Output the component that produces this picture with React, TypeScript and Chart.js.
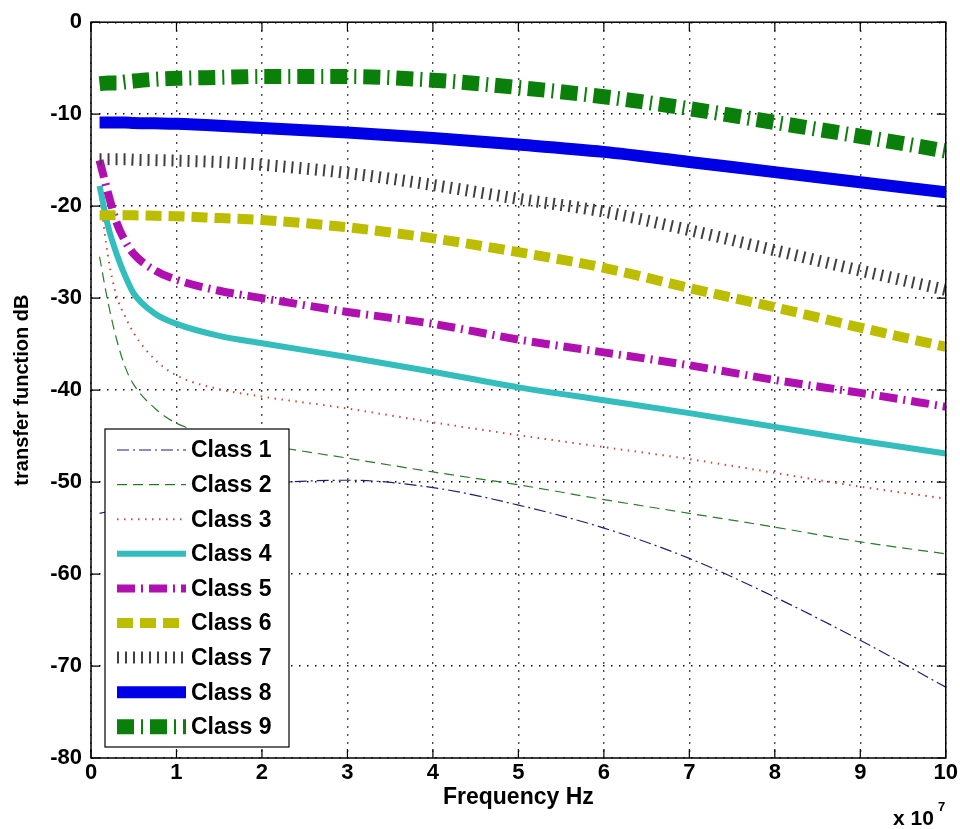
import React, { useEffect, useRef } from 'react';
import { Chart, registerables } from 'chart.js';

Chart.register(...registerables);

// Frequency (x 10^7 Hz)
const FREQ = [0.1, 0.2, 0.3, 0.4, 0.5, 0.75, 1, 1.5, 2, 3, 4, 5, 6, 7, 8, 9, 10];

// transfer function (dB) per class
const CLASS1 = [-53.4, -53.2, -53.0, -52.8, -52.6, -52.1, -51.6, -50.8, -50.2, -49.8, -50.6, -52.5, -55.0, -58.3, -62.5, -67.2, -72.3];
const CLASS2 = [-25.5, -30.5, -34.5, -37.5, -39.4, -42.0, -43.6, -45.0, -45.9, -47.4, -48.9, -50.3, -51.9, -53.4, -54.9, -56.5, -57.8];
const CLASS3 = [-18.5, -25.5, -29.8, -32.0, -33.8, -36.7, -38.4, -39.9, -40.7, -42.0, -43.5, -44.9, -46.2, -47.5, -49.0, -50.5, -51.8];
const CLASS4 = [-17.8, -22.2, -25.2, -27.6, -29.5, -31.7, -32.8, -34.1, -34.9, -36.4, -38.0, -39.7, -41.1, -42.5, -44.0, -45.5, -46.9];
const CLASS5 = [-15.0, -18.6, -21.8, -23.8, -25.2, -27.0, -28.0, -29.2, -30.0, -31.5, -32.8, -34.5, -35.9, -37.3, -38.9, -40.3, -41.8];
const CLASS6 = [-21.0, -21.0, -21.0, -21.0, -21.0, -21.05, -21.1, -21.3, -21.5, -22.3, -23.5, -25.0, -26.7, -28.9, -31.0, -33.2, -35.3];
const CLASS7 = [-14.9, -14.9, -14.9, -14.9, -14.95, -15.0, -15.05, -15.2, -15.5, -16.4, -17.7, -19.2, -20.6, -22.6, -24.8, -27.0, -29.1];
const CLASS8 = [-10.9, -10.9, -10.9, -10.9, -10.95, -11.0, -11.05, -11.25, -11.5, -12.0, -12.6, -13.3, -14.1, -15.2, -16.3, -17.4, -18.5];
const CLASS9 = [-6.7, -6.6, -6.6, -6.5, -6.4, -6.2, -6.1, -6.0, -5.9, -5.9, -6.3, -7.1, -8.1, -9.4, -10.9, -12.4, -14.0];

const LABELS = ['Class 1', 'Class 2', 'Class 3', 'Class 4', 'Class 5', 'Class 6', 'Class 7', 'Class 8', 'Class 9'];
const SERIES = [CLASS1, CLASS2, CLASS3, CLASS4, CLASS5, CLASS6, CLASS7, CLASS8, CLASS9];

const COLORS = ['#20206e', '#2a7a2a', '#c0503a', '#33bdbd', '#b010b0', '#bdbd00', '#404040', '#0000e6', '#0a7f0a'];
const WIDTHS = [1.2, 1.2, 2, 6, 8, 10, 12, 12, 15];
const DASHES: number[][] = [[12, 4, 2, 4], [10, 6], [1.5, 5.5], [], [18, 6, 2, 6], [16, 7], [2, 6], [], [17, 7, 2, 7]];

const X_MIN = 0;
const X_MAX = 10;
const Y_MIN = -80;
const Y_MAX = 0;

const FONT = "'Liberation Sans', Arial, Helvetica, sans-serif";

const framePlugin = {
  id: 'matlabFrame',
  afterDatasetsDraw(chart: any) {
    const { ctx, chartArea } = chart;
    const { left, right, top, bottom } = chartArea;
    const xs = chart.scales.x;
    const ys = chart.scales.y;
    const tl = 9;
    ctx.save();
    ctx.setLineDash([]);
    ctx.strokeStyle = '#000';
    ctx.lineWidth = 1.5;
    ctx.strokeRect(left, top, right - left, bottom - top);
    ctx.lineWidth = 1.2;
    ctx.beginPath();
    xs.ticks.forEach((t: any) => {
      const p = xs.getPixelForValue(t.value);
      ctx.moveTo(p, bottom);
      ctx.lineTo(p, bottom - tl);
      ctx.moveTo(p, top);
      ctx.lineTo(p, top + tl);
    });
    ys.ticks.forEach((t: any) => {
      const p = ys.getPixelForValue(t.value);
      ctx.moveTo(left, p);
      ctx.lineTo(left + tl, p);
      ctx.moveTo(right, p);
      ctx.lineTo(right - tl, p);
    });
    ctx.stroke();
    ctx.restore();
  },
};

const legendPlugin = {
  id: 'inlineLegend',
  afterDraw(chart: any) {
    const { ctx } = chart;
    const boxL = 105, boxT = 429, boxR = 289, boxB = 747;
    ctx.save();
    ctx.fillStyle = '#fff';
    ctx.fillRect(boxL, boxT, boxR - boxL, boxB - boxT);
    ctx.setLineDash([]);
    ctx.strokeStyle = '#000';
    ctx.lineWidth = 1.2;
    ctx.strokeRect(boxL, boxT, boxR - boxL, boxB - boxT);
    chart.data.datasets.forEach((ds: any, i: number) => {
      const cy = boxT + 21 + i * 34.6;
      ctx.save();
      ctx.strokeStyle = ds.borderColor;
      ctx.lineWidth = ds.borderWidth;
      ctx.setLineDash(ds.borderDash || []);
      ctx.lineCap = 'butt';
      ctx.beginPath();
      ctx.moveTo(117, cy);
      ctx.lineTo(186, cy);
      ctx.stroke();
      ctx.restore();
      ctx.fillStyle = '#000';
      ctx.font = `bold 23px ${FONT}`;
      ctx.textAlign = 'left';
      ctx.textBaseline = 'middle';
      ctx.fillText(ds.label, 191, cy + 1);
    });
    // exponent note
    ctx.fillStyle = '#000';
    ctx.textBaseline = 'alphabetic';
    ctx.font = `bold 21px ${FONT}`;
    ctx.fillText('x 10', 893, 825);
    ctx.font = `bold 13px ${FONT}`;
    ctx.fillText('7', 938, 811);
    ctx.restore();
  },
};

export default function App() {
  const ref = useRef<HTMLCanvasElement>(null);
  useEffect(() => {
    document.body.style.margin = '0';
    const canvas = ref.current!;
    const datasets = SERIES.map((vals, i) => ({
      label: LABELS[i],
      data: FREQ.map((f, j) => ({ x: f, y: vals[j] })),
      borderColor: COLORS[i],
      backgroundColor: COLORS[i],
      borderWidth: WIDTHS[i],
      borderDash: DASHES[i],
      pointRadius: 0,
      fill: false,
      cubicInterpolationMode: 'monotone' as const,
      order: 9 - i,
    }));
    const chart = new Chart(canvas, {
      type: 'line',
      data: { datasets },
      plugins: [framePlugin, legendPlugin],
      options: {
        animation: false,
        responsive: false,
        events: [],
        layout: { padding: { top: 22, right: 14, left: 0, bottom: 0 } },
        plugins: { legend: { display: false }, tooltip: { enabled: false }, title: { display: false } },
        scales: {
          x: {
            type: 'linear',
            min: X_MIN,
            max: X_MAX,
            afterFit: (s: any) => { s.height = 71; },
            ticks: { stepSize: 1, color: '#000', padding: 2, font: { family: FONT, size: 22, weight: 'bold' }, maxRotation: 0 },
            grid: { color: '#111', lineWidth: 1.4, drawTicks: false },
            border: { display: false, dash: [1.5, 6.5] },
            title: { display: true, text: 'Frequency Hz', color: '#000', font: { family: FONT, size: 23, weight: 'bold' }, padding: { top: 0, bottom: 18 } },
          },
          y: {
            type: 'linear',
            min: Y_MIN,
            max: Y_MAX,
            afterFit: (s: any) => { s.width = 91; },
            ticks: { stepSize: 10, color: '#000', padding: 9, font: { family: FONT, size: 22, weight: 'bold' } },
            grid: { color: '#111', lineWidth: 1.4, drawTicks: false },
            border: { display: false, dash: [1.5, 6.5] },
            title: { display: true, text: 'transfer function dB', color: '#000', font: { family: FONT, size: 20, weight: 'bold' }, padding: { top: 10, bottom: 0 } },
          },
        },
      },
    } as any);
    return () => chart.destroy();
  }, []);
  return <canvas ref={ref} width={960} height={829} style={{ display: 'block', width: 960, height: 829 }} />;
}
